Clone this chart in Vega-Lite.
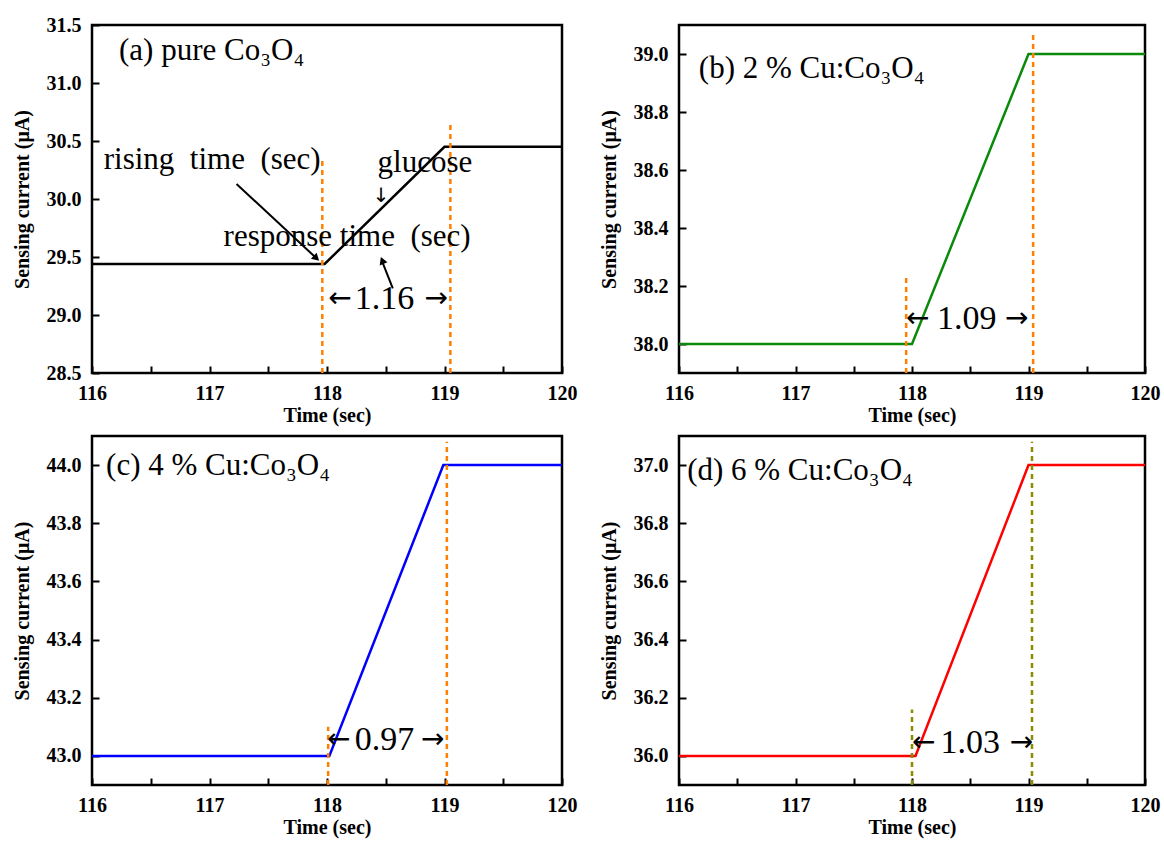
{
  "$schema": "https://vega.github.io/schema/vega-lite/v6.json",
  "background": "white",
  "padding": {"left": 10, "top": 13, "right": 16, "bottom": 5},
  "columns": 2,
  "spacing": {"row": 63, "column": 117},
  "bounds": "flush",
  "resolve": {"scale": {"x": "independent", "y": "independent"}, "axis": {"x": "independent", "y": "independent"}},
  "config": {
    "view": {"stroke": "black", "strokeWidth": 2.5},
    "axis": {
      "labelFont": "Liberation Serif", "labelFontWeight": "bold", "labelFontSize": 20, "labelColor": "black",
      "titleFont": "Liberation Serif", "titleFontWeight": "bold", "titleFontSize": 20, "titleColor": "black",
      "domain": false, "grid": false, "tickColor": "black", "tickWidth": 2, "tickSize": -7, "labelOverlap": false, "labelBound": false, "labelFlush": false
    },
    "axisX": {"labelPadding": 17, "titlePadding": 2},
    "axisY": {"labelPadding": 18, "titlePadding": 14},
    "text": {"font": "Liberation Serif", "color": "black"}
  },
  "datasets": {
    "a_line": [{"t": 116, "i": 29.44}, {"t": 117.98, "i": 29.44}, {"t": 119.0, "i": 30.45}, {"t": 120, "i": 30.45}],
    "a_dash": [{"t": 117.96, "i": 28.5, "i2": 30.36}, {"t": 119.05, "i": 28.5, "i2": 30.67}],
    "a_lab": [{"t": 116.23, "i": 31.28, "s": "(a) pure Co₃O₄"}, {"t": 116.1, "i": 30.34, "s": "rising\u00a0 time\u00a0 (sec)"}, {"t": 118.43, "i": 30.31, "s": "glucose"}, {"t": 117.12, "i": 29.67, "s": "response time\u00a0 (sec)"}],
    "a_num": [{"t": 118.49, "i": 29.14, "s": "1.16"}],
    "a_arr": [{"t": 118.11, "i": 29.14, "s": "←"}, {"t": 118.93, "i": 29.14, "s": "→"}],
    "a_down": [{"t": 118.46, "i": 30.03, "s": "↓"}],
    "a_ptr": [{"t": 117.23, "i": 30.13, "t2": 117.92, "i2": 29.48}, {"t": 118.56, "i": 29.23, "t2": 118.47, "i2": 29.46}],
    "a_head1": [{"t": 117.91, "i": 29.49}],
    "a_head2": [{"t": 118.47, "i": 29.47}],
    "b_line": [{"t": 116, "i": 38.0}, {"t": 118.0, "i": 38.0}, {"t": 119.0, "i": 39.0}, {"t": 120, "i": 39.0}],
    "b_dash": [{"t": 117.95, "i": 37.9, "i2": 38.23}, {"t": 119.04, "i": 37.9, "i2": 39.07}],
    "b_lab": [{"t": 116.17, "i": 38.95, "s": "(b) 2 % Cu:Co₃O₄"}],
    "b_num": [{"t": 118.47, "i": 38.086, "s": "1.09"}],
    "b_arr": [{"t": 118.05, "i": 38.086, "s": "←"}, {"t": 118.9, "i": 38.086, "s": "→"}],
    "c_line": [{"t": 116, "i": 43.0}, {"t": 118.02, "i": 43.0}, {"t": 118.99, "i": 44.0}, {"t": 120, "i": 44.0}],
    "c_dash": [{"t": 118.01, "i": 42.9, "i2": 43.1}, {"t": 119.02, "i": 42.9, "i2": 44.08}],
    "c_lab": [{"t": 116.12, "i": 43.997, "s": "(c) 4 % Cu:Co₃O₄"}],
    "c_num": [{"t": 118.49, "i": 43.055, "s": "0.97"}],
    "c_arr": [{"t": 118.1, "i": 43.055, "s": "←"}, {"t": 118.9, "i": 43.055, "s": "→"}],
    "d_line": [{"t": 116, "i": 36.0}, {"t": 118.03, "i": 36.0}, {"t": 119.0, "i": 37.0}, {"t": 120, "i": 37.0}],
    "d_dash": [{"t": 118.0, "i": 35.9, "i2": 36.16}, {"t": 119.03, "i": 35.9, "i2": 37.08}],
    "d_lab": [{"t": 116.07, "i": 36.98, "s": "(d) 6 % Cu:Co₃O₄"}],
    "d_num": [{"t": 118.5, "i": 36.044, "s": "1.03"}],
    "d_arr": [{"t": 118.1, "i": 36.044, "s": "←"}, {"t": 118.94, "i": 36.044, "s": "→"}]
  },
  "concat": [
    {
      "width": 470, "height": 348,
      "layer": [
        {"data": {"name": "a_line"}, "mark": {"type": "line", "color": "black", "strokeWidth": 2.5},
         "encoding": {
           "x": {"field": "t", "type": "quantitative", "scale": {"domain": [116, 120], "nice": false, "zero": false},
                 "axis": {"title": "Time (sec)", "values": [116, 116.5, 117, 117.5, 118, 118.5, 119, 119.5, 120], "labelExpr": "datum.value % 1 ? '' : format(datum.value, '.0f')"}},
           "y": {"field": "i", "type": "quantitative", "scale": {"domain": [28.5, 31.5], "nice": false, "zero": false},
                 "axis": {"title": "Sensing current (μA)", "values": [28.5, 28.75, 29, 29.25, 29.5, 29.75, 30, 30.25, 30.5, 30.75, 31, 31.25, 31.5], "labelExpr": "round(datum.value*4) % 2 ? '' : format(datum.value, '.1f')"}}
         }},
        {"data": {"name": "a_dash"}, "mark": {"type": "rule", "color": "#ff8000", "strokeWidth": 2.5, "strokeDash": [5, 4]},
         "encoding": {"x": {"field": "t", "type": "quantitative"}, "y": {"field": "i", "type": "quantitative"}, "y2": {"field": "i2"}}},
        {"data": {"name": "a_ptr"}, "mark": {"type": "rule", "color": "black", "strokeWidth": 2},
         "encoding": {"x": {"field": "t", "type": "quantitative"}, "y": {"field": "i", "type": "quantitative"}, "x2": {"field": "t2"}, "y2": {"field": "i2"}}},
        {"data": {"name": "a_head1"}, "mark": {"type": "point", "shape": "triangle-up", "filled": true, "color": "black", "size": 70, "angle": 133, "opacity": 1},
         "encoding": {"x": {"field": "t", "type": "quantitative"}, "y": {"field": "i", "type": "quantitative"}}},
        {"data": {"name": "a_head2"}, "mark": {"type": "point", "shape": "triangle-up", "filled": true, "color": "black", "size": 70, "angle": -22, "opacity": 1},
         "encoding": {"x": {"field": "t", "type": "quantitative"}, "y": {"field": "i", "type": "quantitative"}}},
        {"data": {"name": "a_lab"}, "mark": {"type": "text", "fontSize": 31, "align": "left", "baseline": "middle"},
         "encoding": {"x": {"field": "t", "type": "quantitative"}, "y": {"field": "i", "type": "quantitative"}, "text": {"field": "s"}}},
        {"data": {"name": "a_num"}, "mark": {"type": "text", "fontSize": 34, "align": "center", "baseline": "middle"},
         "encoding": {"x": {"field": "t", "type": "quantitative"}, "y": {"field": "i", "type": "quantitative"}, "text": {"field": "s"}}},
        {"data": {"name": "a_arr"}, "mark": {"type": "text", "font": "DejaVu Sans", "fontSize": 28, "align": "center", "baseline": "middle"},
         "encoding": {"x": {"field": "t", "type": "quantitative"}, "y": {"field": "i", "type": "quantitative"}, "text": {"field": "s"}}},
        {"data": {"name": "a_down"}, "mark": {"type": "text", "font": "DejaVu Sans", "fontSize": 20, "align": "center", "baseline": "middle"},
         "encoding": {"x": {"field": "t", "type": "quantitative"}, "y": {"field": "i", "type": "quantitative"}, "text": {"field": "s"}}}
      ]
    },
    {
      "width": 466, "height": 348,
      "layer": [
        {"data": {"name": "b_line"}, "mark": {"type": "line", "color": "#0a8a0a", "strokeWidth": 2.5},
         "encoding": {
           "x": {"field": "t", "type": "quantitative", "scale": {"domain": [116, 120], "nice": false, "zero": false},
                 "axis": {"title": "Time (sec)", "values": [116, 116.5, 117, 117.5, 118, 118.5, 119, 119.5, 120], "labelExpr": "datum.value % 1 ? '' : format(datum.value, '.0f')"}},
           "y": {"field": "i", "type": "quantitative", "scale": {"domain": [37.9, 39.1], "nice": false, "zero": false},
                 "axis": {"title": "Sensing current (μA)", "values": [38.0, 38.2, 38.4, 38.6, 38.8, 39.0], "format": ".1f"}}
         }},
        {"data": {"name": "b_dash"}, "mark": {"type": "rule", "color": "#ff8000", "strokeWidth": 2.5, "strokeDash": [5, 4]},
         "encoding": {"x": {"field": "t", "type": "quantitative"}, "y": {"field": "i", "type": "quantitative"}, "y2": {"field": "i2"}}},
        {"data": {"name": "b_lab"}, "mark": {"type": "text", "fontSize": 31, "align": "left", "baseline": "middle"},
         "encoding": {"x": {"field": "t", "type": "quantitative"}, "y": {"field": "i", "type": "quantitative"}, "text": {"field": "s"}}},
        {"data": {"name": "b_num"}, "mark": {"type": "text", "fontSize": 34, "align": "center", "baseline": "middle"},
         "encoding": {"x": {"field": "t", "type": "quantitative"}, "y": {"field": "i", "type": "quantitative"}, "text": {"field": "s"}}},
        {"data": {"name": "b_arr"}, "mark": {"type": "text", "font": "DejaVu Sans", "fontSize": 28, "align": "center", "baseline": "middle"},
         "encoding": {"x": {"field": "t", "type": "quantitative"}, "y": {"field": "i", "type": "quantitative"}, "text": {"field": "s"}}}
      ]
    },
    {
      "width": 470, "height": 349,
      "layer": [
        {"data": {"name": "c_line"}, "mark": {"type": "line", "color": "#0000ff", "strokeWidth": 2.5},
         "encoding": {
           "x": {"field": "t", "type": "quantitative", "scale": {"domain": [116, 120], "nice": false, "zero": false},
                 "axis": {"title": "Time (sec)", "values": [116, 116.5, 117, 117.5, 118, 118.5, 119, 119.5, 120], "labelExpr": "datum.value % 1 ? '' : format(datum.value, '.0f')"}},
           "y": {"field": "i", "type": "quantitative", "scale": {"domain": [42.9, 44.1], "nice": false, "zero": false},
                 "axis": {"title": "Sensing current (μA)", "values": [43.0, 43.2, 43.4, 43.6, 43.8, 44.0], "format": ".1f"}}
         }},
        {"data": {"name": "c_dash"}, "mark": {"type": "rule", "color": "#ff8000", "strokeWidth": 2.5, "strokeDash": [5, 4]},
         "encoding": {"x": {"field": "t", "type": "quantitative"}, "y": {"field": "i", "type": "quantitative"}, "y2": {"field": "i2"}}},
        {"data": {"name": "c_lab"}, "mark": {"type": "text", "fontSize": 31, "align": "left", "baseline": "middle"},
         "encoding": {"x": {"field": "t", "type": "quantitative"}, "y": {"field": "i", "type": "quantitative"}, "text": {"field": "s"}}},
        {"data": {"name": "c_num"}, "mark": {"type": "text", "fontSize": 34, "align": "center", "baseline": "middle"},
         "encoding": {"x": {"field": "t", "type": "quantitative"}, "y": {"field": "i", "type": "quantitative"}, "text": {"field": "s"}}},
        {"data": {"name": "c_arr"}, "mark": {"type": "text", "font": "DejaVu Sans", "fontSize": 28, "align": "center", "baseline": "middle"},
         "encoding": {"x": {"field": "t", "type": "quantitative"}, "y": {"field": "i", "type": "quantitative"}, "text": {"field": "s"}}}
      ]
    },
    {
      "width": 466, "height": 349,
      "layer": [
        {"data": {"name": "d_line"}, "mark": {"type": "line", "color": "#ff0000", "strokeWidth": 2.5},
         "encoding": {
           "x": {"field": "t", "type": "quantitative", "scale": {"domain": [116, 120], "nice": false, "zero": false},
                 "axis": {"title": "Time (sec)", "values": [116, 116.5, 117, 117.5, 118, 118.5, 119, 119.5, 120], "labelExpr": "datum.value % 1 ? '' : format(datum.value, '.0f')"}},
           "y": {"field": "i", "type": "quantitative", "scale": {"domain": [35.9, 37.1], "nice": false, "zero": false},
                 "axis": {"title": "Sensing current (μA)", "values": [36.0, 36.2, 36.4, 36.6, 36.8, 37.0], "format": ".1f"}}
         }},
        {"data": {"name": "d_dash"}, "mark": {"type": "rule", "color": "#8c8c00", "strokeWidth": 2.5, "strokeDash": [5, 4]},
         "encoding": {"x": {"field": "t", "type": "quantitative"}, "y": {"field": "i", "type": "quantitative"}, "y2": {"field": "i2"}}},
        {"data": {"name": "d_lab"}, "mark": {"type": "text", "fontSize": 31, "align": "left", "baseline": "middle"},
         "encoding": {"x": {"field": "t", "type": "quantitative"}, "y": {"field": "i", "type": "quantitative"}, "text": {"field": "s"}}},
        {"data": {"name": "d_num"}, "mark": {"type": "text", "fontSize": 34, "align": "center", "baseline": "middle"},
         "encoding": {"x": {"field": "t", "type": "quantitative"}, "y": {"field": "i", "type": "quantitative"}, "text": {"field": "s"}}},
        {"data": {"name": "d_arr"}, "mark": {"type": "text", "font": "DejaVu Sans", "fontSize": 28, "align": "center", "baseline": "middle"},
         "encoding": {"x": {"field": "t", "type": "quantitative"}, "y": {"field": "i", "type": "quantitative"}, "text": {"field": "s"}}}
      ]
    }
  ]
}
